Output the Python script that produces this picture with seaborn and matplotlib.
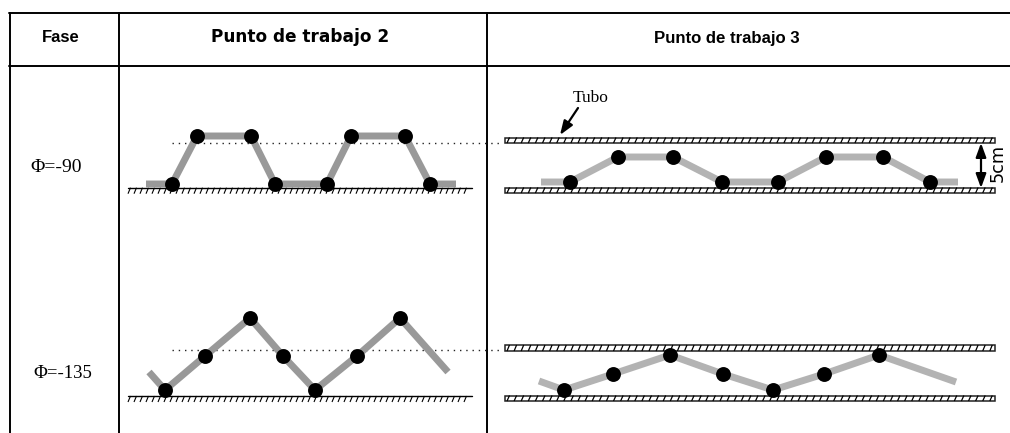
import numpy as np
import seaborn as sns
import matplotlib
matplotlib.use("Agg")
import matplotlib.pyplot as plt
from matplotlib.collections import LineCollection

sns.set_theme(style="white")

# Values, in image pixels
headers = ["Fase", "Punto de trabajo 2", "Punto de trabajo 3"]
phases = ["Φ=-90", "Φ=-135"]

line_a_x = [146, 172, 197, 251, 275, 327, 351, 405, 430, 456]
line_a_y = [184, 184, 136, 136, 184, 184, 136, 136, 184, 184]
dots_a_x = [172, 197, 251, 275, 327, 351, 405, 430]
dots_a_y = [184, 136, 136, 184, 184, 136, 136, 184]

line_b_x = [149, 165, 205, 250, 283, 315, 357, 400, 448]
line_b_y = [372, 390, 356, 318, 356, 390, 356, 318, 372]
dots_b_x = [165, 205, 250, 283, 315, 357, 400]
dots_b_y = [390, 356, 318, 356, 390, 356, 318]

line_c_x = [541, 570, 618, 673, 722, 778, 826, 883, 930, 958]
line_c_y = [182, 182, 157, 157, 182, 182, 157, 157, 182, 182]
dots_c_x = [570, 618, 673, 722, 778, 826, 883, 930]
dots_c_y = [182, 157, 157, 182, 182, 157, 157, 182]

line_d_x = [539, 564, 613, 670, 723, 773, 824, 879, 956]
line_d_y = [381, 390, 374, 355, 374, 390, 374, 355, 382]
dots_d_x = [564, 613, 670, 723, 773, 824, 879]
dots_d_y = [390, 374, 355, 374, 390, 374, 355]

fig = plt.figure(figsize=(10.1, 4.33), dpi=100)
ax = fig.add_axes([0, 0, 1, 1])
ax.set_xlim(0, 1010)
ax.set_ylim(433, 0)
ax.axis("off")

# table frame
for y in [13, 66]:
    ax.plot([9, 1010], [y, y], color="black", lw=1.4)
for x in [9.5, 119, 486.5]:
    ax.plot([x, x], [13, 433], color="black", lw=1.4)

ax.text(61, 37, headers[0], ha="center", va="center", fontsize=12, fontweight="bold",
        family="Liberation Sans", color="black")
ax.text(300, 37, headers[1], ha="center", va="center", fontsize=12.2, fontweight="bold",
        family="DejaVu Sans", color="black")
ax.text(727, 38, headers[2], ha="center", va="center", fontsize=12.1, fontweight="bold",
        family="Liberation Sans", color="black")
ax.text(56, 167, phases[0], ha="center", va="center", fontsize=14, family="Liberation Serif", color="black")
ax.text(63, 373, phases[1], ha="center", va="center", fontsize=13.5, family="Liberation Serif", color="black")


def ground(y, x0=128, x1=472):
    ax.plot([x0, x1], [y, y], color="black", lw=1.0)
    xs = np.arange(x0, x1 - 2, 6)
    segs = [[(x + 2.5, y), (x, y + 6)] for x in xs]
    ax.add_collection(LineCollection(segs, colors="black", linewidths=0.8))


def tube(y0, y1, x0=505, x1=995):
    ax.fill([x0, x1, x1, x0], [y0, y0, y1, y1], facecolor="white", edgecolor="#222222", lw=1.1)
    xs = np.arange(x0 + 2, x1 - 3, 7.1)
    segs = [[(x + 2.5, y0), (x, y1)] for x in xs]
    ax.add_collection(LineCollection(segs, colors="black", linewidths=0.9))


ground(187.7)
ground(396)
tube(137.5, 143)
tube(187.5, 193)
tube(345, 351)
tube(395.5, 401)

# dotted guides
ax.plot([172, 500], [142.7, 142.7], color="#222222", lw=1.0, ls=(0, (1, 3.5)))
ax.plot([172, 500], [350, 350], color="#222222", lw=1.0, ls=(0, (1, 3.5)))

for lx, ly, dx, dy, col in [
    (line_a_x, line_a_y, dots_a_x, dots_a_y, "#999999"),
    (line_b_x, line_b_y, dots_b_x, dots_b_y, "#999999"),
    (line_c_x, line_c_y, dots_c_x, dots_c_y, "#b3b3b3"),
    (line_d_x, line_d_y, dots_d_x, dots_d_y, "#b3b3b3"),
]:
    sns.lineplot(x=lx, y=ly, ax=ax, sort=False, estimator=None, color=col, lw=5,
                 solid_capstyle="butt", solid_joinstyle="miter", legend=False)
    sns.scatterplot(x=dx, y=dy, ax=ax, color="black", s=115, linewidth=0, legend=False, zorder=5)

# annotations
ax.text(591, 98, "Tubo", ha="center", va="center", fontsize=12.5, family="Liberation Serif", color="black")
ax.annotate("", xy=(560, 135), xytext=(578, 108),
            arrowprops=dict(arrowstyle="-|>,head_length=0.6,head_width=0.22", color="black", lw=1.6,
                            mutation_scale=14, shrinkA=0, shrinkB=0))
ax.annotate("", xy=(981, 188), xytext=(981, 143),
            arrowprops=dict(arrowstyle="<|-|>,head_length=0.6,head_width=0.22", color="black", lw=1.6,
                            mutation_scale=14, shrinkA=0, shrinkB=0))
ax.text(998, 163, "5cm", rotation=90, ha="center", va="center", fontsize=12.7, family="DejaVu Sans", color="black")

ax.set_xlim(0, 1010)
ax.set_ylim(433, 0)
ax.axis("off")

fig.savefig("out.png", dpi=100, facecolor="white")
